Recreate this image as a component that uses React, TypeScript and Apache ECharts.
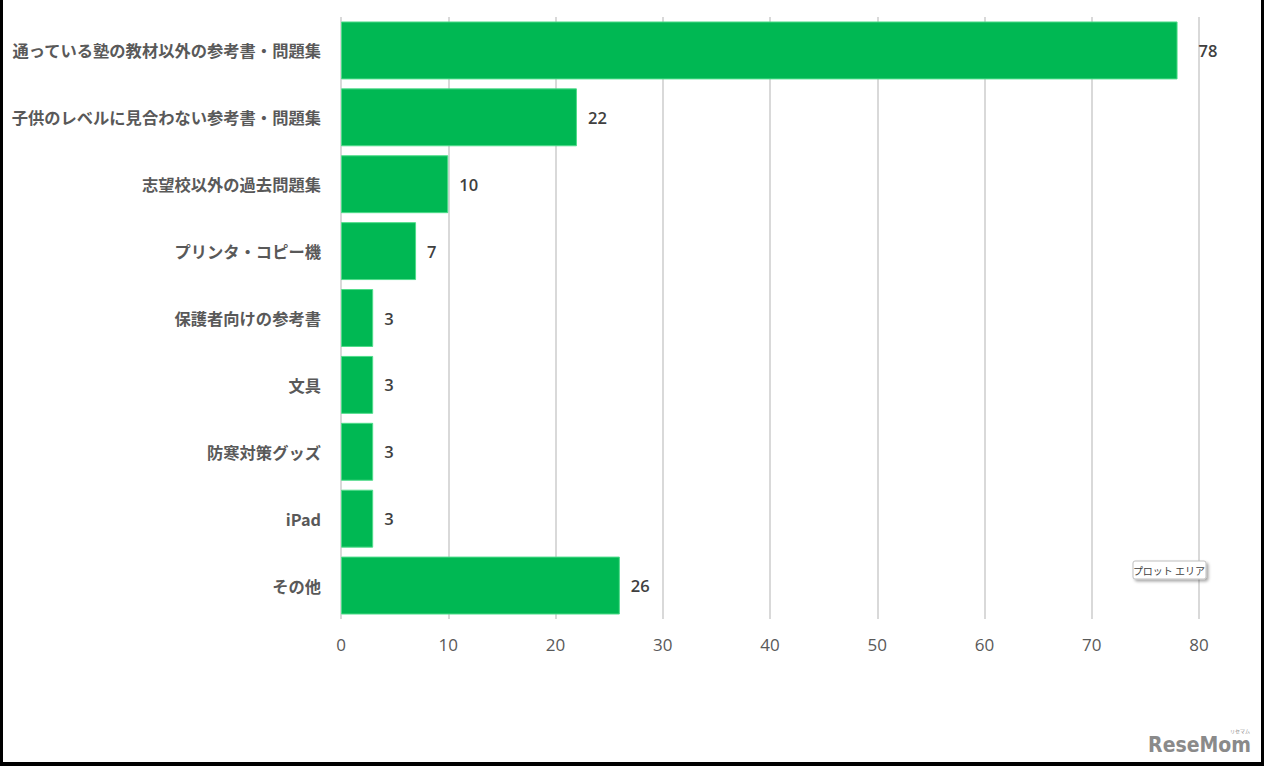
import React, { useEffect, useRef } from "react";
import * as echarts from "echarts";

const categories = [
  "通っている塾の教材以外の参考書・問題集",
  "子供のレベルに見合わない参考書・問題集",
  "志望校以外の過去問題集",
  "プリンタ・コピー機",
  "保護者向けの参考書",
  "文具",
  "防寒対策グッズ",
  "iPad",
  "その他",
];
const values = [78, 22, 10, 7, 3, 3, 3, 3, 26];
const axisMax = 80;
const axisInterval = 10;

export default function App() {
  const ref = useRef<HTMLDivElement>(null);
  useEffect(() => {
    document.body.style.margin = "0";
    const chart = echarts.init(ref.current!, undefined, { renderer: "svg" });
    const font = "'Noto Sans CJK JP', 'Noto Sans', sans-serif";
    const numFont = "'Open Sans', 'Noto Sans', sans-serif";
    chart.setOption({
      animation: false,
      grid: { left: 341, right: 65, top: 17, bottom: 147 },
      xAxis: {
        type: "value",
        min: 0,
        max: axisMax,
        interval: axisInterval,
        axisLine: { show: false },
        axisTick: { show: false },
        splitLine: { show: true, lineStyle: { color: "#D9D9D9", width: 2 } },
        axisLabel: { color: "#595959", fontSize: 17, margin: 17, fontFamily: numFont },
      },
      yAxis: {
        type: "category",
        data: categories,
        inverse: true,
        axisLine: { show: false },
        axisTick: { show: false },
        axisLabel: {
          color: "#595959",
          fontSize: 16.3,
          fontWeight: "bold",
          margin: 20,
          fontFamily: font,
        },
      },
      series: [
        {
          type: "bar",
          data: values.map((v, i) =>
            i === 0 ? { value: v, label: { distance: 21 } } : v
          ),
          barCategoryGap: "13.4%",
          itemStyle: { color: "#00B853", borderColor: "#4FDC8A", borderWidth: 1 },
          label: {
            show: true,
            position: "right",
            distance: 11,
            color: "#404040",
            fontSize: 16.5,
            fontWeight: 600,
            fontFamily: numFont,
          },
        },
      ],
      graphic: [
        {
          type: "rect",
          shape: { x: 1133, y: 561, width: 73, height: 18, r: 2 },
          style: {
            fill: "#FFFFFF",
            stroke: "#BFBFBF",
            lineWidth: 1,
            shadowBlur: 3,
            shadowOffsetX: 2,
            shadowOffsetY: 2,
            shadowColor: "rgba(0,0,0,0.35)",
          },
          z: 100,
        },
        {
          type: "text",
          x: 1169,
          y: 570,
          style: {
            text: "プロット エリア",
            fontSize: 10,
            fill: "#404040",
            fontFamily: font,
            align: "center",
            verticalAlign: "middle",
          },
          z: 101,
        },
        {
          type: "text",
          x: 1251,
          y: 745,
          style: {
            text: "ReseMom",
            fontSize: 21,
            fontWeight: "bold",
            fill: "#8A8A8A",
            fontFamily: "'DejaVu Sans Condensed', 'Open Sans', sans-serif",
            align: "right",
            verticalAlign: "middle",
          },
        },
        {
          type: "text",
          x: 1240,
          y: 730,
          style: {
            text: "リセマム",
            fontSize: 5,
            fill: "#8A8A8A",
            fontFamily: font,
            align: "center",
            verticalAlign: "middle",
          },
        },
      ],
    });
    return () => chart.dispose();
  }, []);
  return (
    <div
      style={{
        position: "fixed",
        left: 0,
        top: 0,
        width: 1264,
        height: 766,
        boxSizing: "border-box",
        borderLeft: "3px solid #000",
        borderRight: "3px solid #000",
        borderBottom: "4px solid #000",
        background: "#fff",
      }}
    >
      <div ref={ref} style={{ position: "absolute", left: -3, top: 0, width: 1264, height: 766 }} />
    </div>
  );
}
